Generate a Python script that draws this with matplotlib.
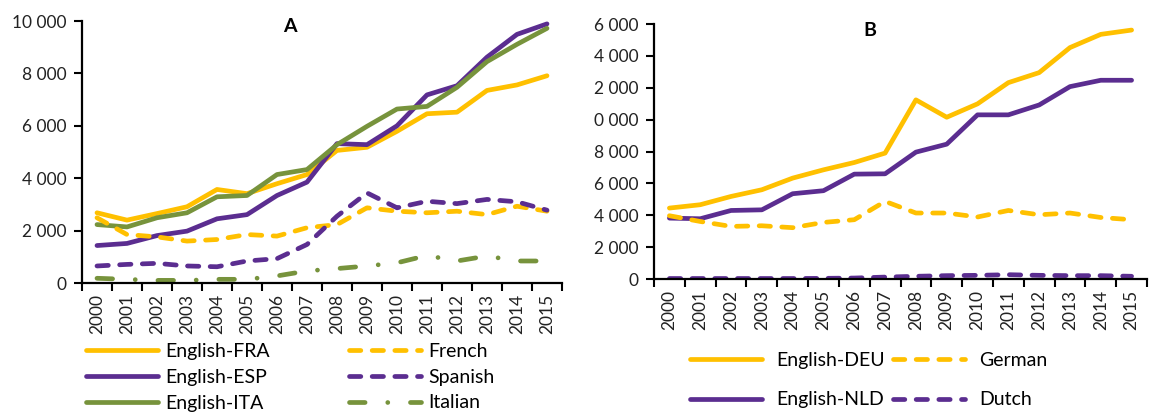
import numpy as np
import matplotlib
matplotlib.use("Agg")
import matplotlib.pyplot as plt
from matplotlib.ticker import FixedLocator, FuncFormatter

plt.rcParams["font.family"] = ["Lato", "DejaVu Sans"]

# Data
years = [str(y) for y in range(2000, 2016)]

eng_fra = [2680, 2400, 2650, 2910, 3570, 3410, 3790, 4140, 5060, 5180, 5790, 6460, 6520, 7350, 7560, 7910]
eng_esp = [1430, 1510, 1810, 1980, 2450, 2610, 3340, 3850, 5320, 5280, 6000, 7180, 7530, 8620, 9490, 9890]
eng_ita = [2230, 2140, 2490, 2680, 3290, 3340, 4140, 4330, 5280, 5980, 6640, 6740, 7470, 8450, 9110, 9720]
french = [2490, 1850, 1760, 1600, 1660, 1850, 1790, 2110, 2230, 2870, 2740, 2680, 2740, 2610, 2930, 2740]
spanish = [650, 710, 750, 650, 620, 840, 930, 1470, 2550, 3440, 2870, 3120, 3030, 3190, 3100, 2780]
italian = [180, 140, 100, 100, 140, 140, 270, 460, 550, 650, 770, 1050, 840, 1030, 840, 840]

eng_deu = [4450, 4660, 5180, 5600, 6330, 6850, 7310, 7900, 11240, 10150, 10990, 12320, 12950, 14520, 15350, 15620]
eng_nld = [3820, 3780, 4300, 4340, 5350, 5540, 6580, 6600, 7960, 8460, 10300, 10300, 10920, 12070, 12470, 12470]
german = [3970, 3610, 3300, 3340, 3220, 3550, 3720, 4870, 4140, 4140, 3890, 4300, 4030, 4140, 3860, 3720]
dutch = [30, 30, 30, 30, 30, 40, 60, 120, 170, 210, 230, 270, 230, 210, 210, 170]

# tick labels of panel B are cut off at the left in the reference
b_ticks = [0, 2000, 4000, 6000, 8000, 10000, 12000, 14000, 16000]
b_tick_labels = ["0", "2 000", "4 000", "6 000", "8 000", "0 000", "2 000", "4 000", "6 000"]

YELLOW = "#FFC000"
PURPLE = "#5B2D90"
GREEN = "#77933C"
LW = 3.4
DASH = (2.4, 2.4)
DASHDOT = (3.3, 4.8, 0.01, 4.8)

W, H = 1151, 412
fig = plt.figure(figsize=(W / 100, H / 100), dpi=100)


def px_axes(left, right, top, bottom):
    return fig.add_axes([left / W, 1 - bottom / H, (right - left) / W, (bottom - top) / H])


def style_axes(ax, ymax):
    n = len(years)
    x = np.arange(n)
    ax.set_xlim(-0.5, n - 0.5)
    ax.set_ylim(0, ymax)
    for s in ["top", "right"]:
        ax.spines[s].set_visible(False)
    for s in ["left", "bottom"]:
        ax.spines[s].set_linewidth(1.6)
    ax.xaxis.set_major_locator(FixedLocator(np.arange(-0.5, n, 1)))
    ax.xaxis.set_major_formatter(FuncFormatter(lambda v, p: ""))
    ax.xaxis.set_minor_locator(FixedLocator(x))
    ax.set_xticks(x, years, minor=True, rotation=90, fontsize=12.5, color="#222222")
    ax.tick_params(axis="x", which="major", length=6, width=1.5, direction="out")
    ax.tick_params(axis="x", which="minor", length=0, pad=8)
    ax.tick_params(axis="y", length=6, width=1.5, direction="out", labelsize=12.5,
                   labelcolor="#222222", pad=5)
    return x


def draw(ax, x, y, color, style=None):
    kw = dict(color=color, lw=LW, solid_capstyle="round", solid_joinstyle="round",
              dash_capstyle="round", dash_joinstyle="round")
    line, = ax.plot(x, y, **kw)
    if style is not None:
        line.set_dashes(style)
    return line


# Panel A
axA = px_axes(82, 562, 21, 283)
x = style_axes(axA, 10000)
axA.set_yticks(range(0, 10001, 2000))
axA.yaxis.set_major_formatter(FuncFormatter(lambda v, p: f"{int(v):,}".replace(",", " ")))
hA = [
    draw(axA, x, eng_fra, YELLOW),
    draw(axA, x, eng_esp, PURPLE),
    draw(axA, x, eng_ita, GREEN),
    draw(axA, x, french, YELLOW, DASH),
    draw(axA, x, spanish, PURPLE, DASH),
    draw(axA, x, italian, GREEN, DASHDOT),
]
labA = ["English-FRA", "English-ESP", "English-ITA", "French", "Spanish", "Italian"]
fig.text(290 / W, 1 - 27 / H, "A", ha="center", va="center", fontsize=14, fontweight="bold")
fig.legend(hA, labA, ncol=2, loc="upper left", bbox_to_anchor=(86 / W, 1 - 343 / H),
           frameon=False, fontsize=14, handlelength=3.7, handletextpad=0.36,
           columnspacing=4.1, labelspacing=0.45, borderpad=0, borderaxespad=0)

# Panel B
axB = px_axes(654, 1147, 24, 279)
x = style_axes(axB, 16000)
axB.set_yticks(b_ticks, b_tick_labels)
hB = [
    draw(axB, x, eng_deu, YELLOW),
    draw(axB, x, eng_nld, PURPLE),
    draw(axB, x, german, YELLOW, DASH),
    draw(axB, x, dutch, PURPLE, DASH),
]
labB = ["English-DEU", "English-NLD", "German", "Dutch"]
fig.text(870 / W, 1 - 30 / H, "B", ha="center", va="center", fontsize=14, fontweight="bold")
fig.legend(hB, labB, ncol=2, loc="upper left", bbox_to_anchor=(690 / W, 1 - 352 / H),
           frameon=False, fontsize=14, handlelength=3.7, handletextpad=0.75,
           columnspacing=0.4, labelspacing=1.15, borderpad=0, borderaxespad=0)

fig.savefig("out.png", dpi=100)
